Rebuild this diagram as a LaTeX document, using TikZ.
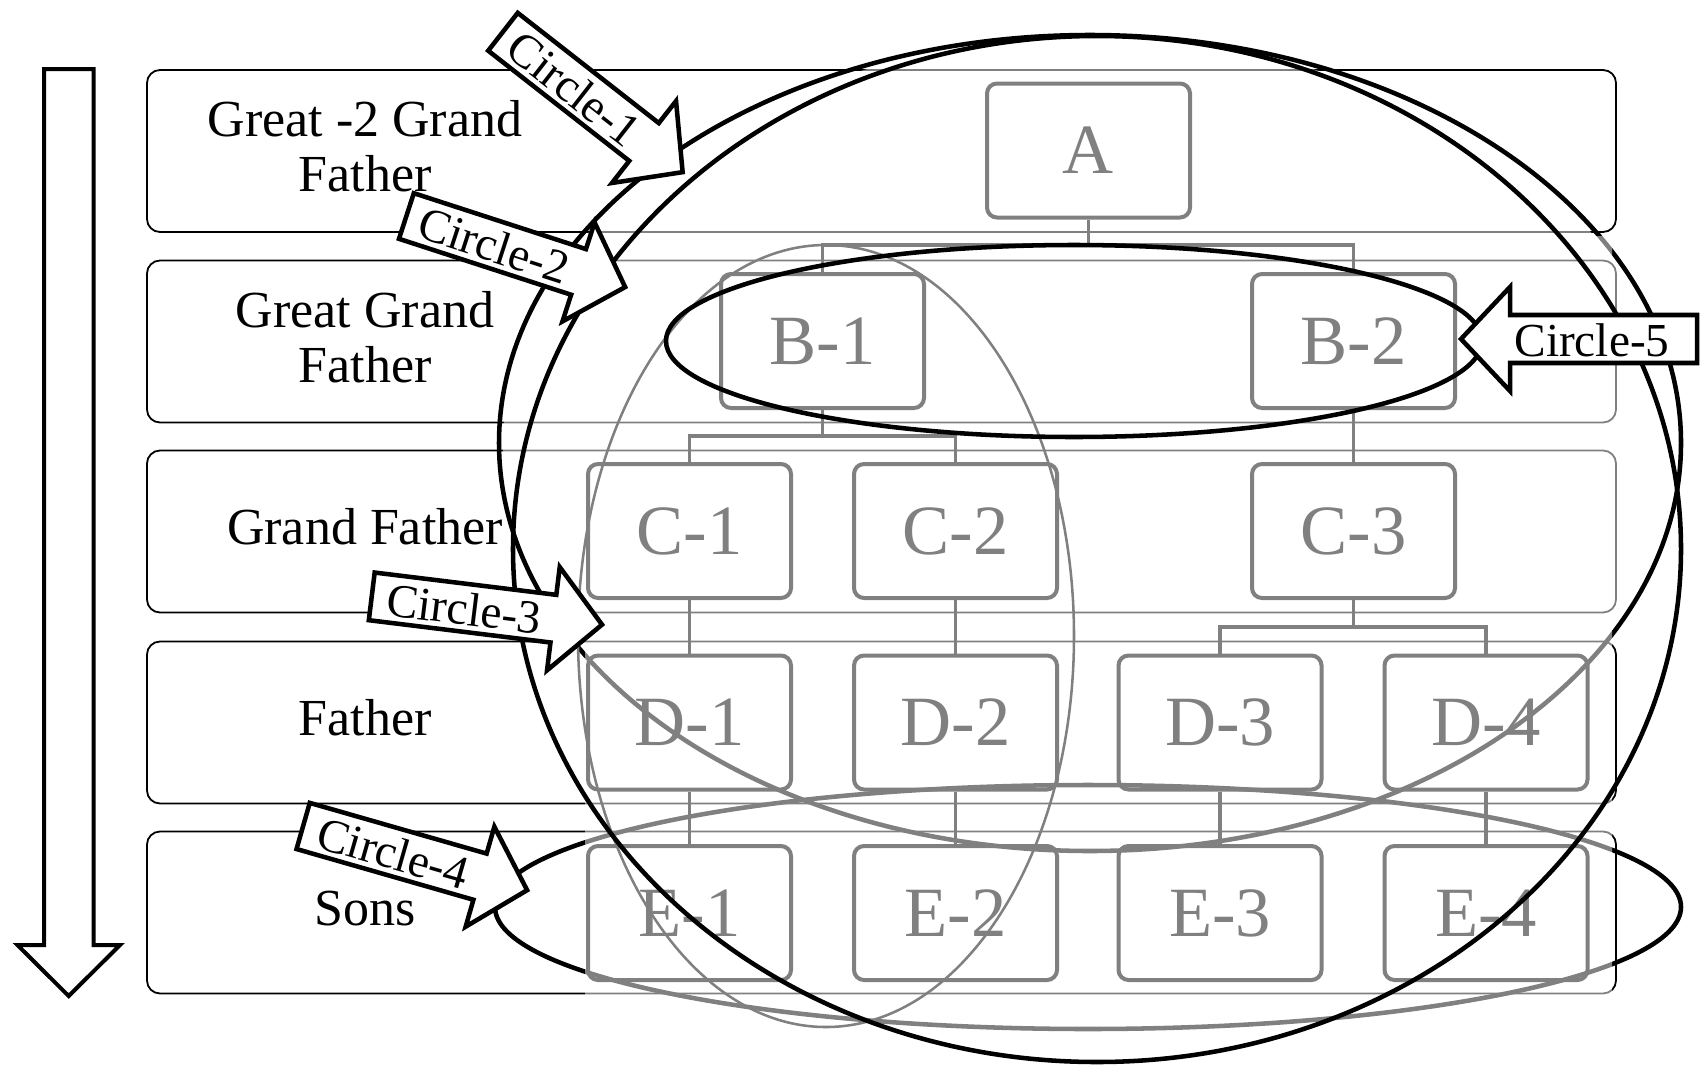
\documentclass[tikz,border=0pt]{standalone}
\usepackage{fontspec}
\setmainfont{Liberation Serif}
\definecolor{orggray}{gray}{0.5}
\tikzset{
 rowbox/.style={draw=black, line width=1.35pt, rounded corners=9.75pt, minimum width=1101.75pt, minimum height=121.5pt, inner sep=0pt},
 orgbox/.style={draw=orggray, line width=3pt, rounded corners=7.5pt, minimum width=152.25pt, minimum height=100.5pt, inner sep=0pt, text=orggray, font=\fontsize{53}{60}\selectfont},
 orgline/.style={draw=orggray, line width=2.4pt},
 bigring/.style={draw=black, line width=3.4pt},
 thinring/.style={draw=orggray, line width=1.9pt},
 lbl/.style={font=\fontsize{39}{46}\selectfont, anchor=base, inner sep=0pt},
 callout/.style={draw=black, fill=white, line width=3.4pt, line join=miter},
 calltext/.style={font=\fontsize{35.5}{42}\selectfont, inner sep=0pt},
 bigarrow/.style={draw=black, line width=3pt, line join=miter, fill=white},
}
\newcommand{\mycallout}[6]{%
 \begin{scope}[shift={(#2,#3)}, rotate=#4]
  \draw[callout] (-52-#5,-24) -- (-52,-24) -- (-52,-52) -- (-3,0) -- (-52,52) -- (-52,24) -- (-52-#5,24) -- cycle;
  \node[calltext, transform shape] (#1) at (-50-#5/2,1) {#6};
 \end{scope}}
\begin{document}
\begin{tikzpicture}[x=0.75pt, y=-0.75pt]
\useasboundingbox (0,0) rectangle (1702,1064);

% generation rows
\node[rowbox] (R1) at (881.5,151) {};
\node[rowbox] (R2) at (881.5,341.5) {};
\node[rowbox] (R3) at (881.5,531.5) {};
\node[rowbox] (R4) at (881.5,722.5) {};
\node[rowbox] (R5) at (881.5,912.5) {};

% rings lying under the chart layer
\draw[bigring] (1090,443) ellipse [x radius=591, y radius=408];
\draw[bigring] (1088,907) ellipse [x radius=593, y radius=122];

% screened chart layer
\begin{scope}[transparency group, opacity=0.5]
 \fill[white] (1090,443) ellipse [x radius=587, y radius=404];
 \fill[white] (585,236) rectangle (1612,1040);
\end{scope}

% family tree
\node[orgbox] (A)  at (1088.5,150.5) {A};
\node[orgbox] (B1) at (822.5,341) {B-1};
\node[orgbox] (B2) at (1353.5,341) {B-2};
\node[orgbox] (C1) at (689.5,531) {C-1};
\node[orgbox] (C2) at (955.5,531) {C-2};
\node[orgbox] (C3) at (1353.5,531) {C-3};
\node[orgbox] (D1) at (689.5,722.5) {D-1};
\node[orgbox] (D2) at (955.5,722.5) {D-2};
\node[orgbox] (D3) at (1220,722.5) {D-3};
\node[orgbox] (D4) at (1486,722.5) {D-4};
\node[orgbox] (E1) at (689.5,913) {E-1};
\node[orgbox] (E2) at (955.5,913) {E-2};
\node[orgbox] (E3) at (1220,913) {E-3};
\node[orgbox] (E4) at (1486,913) {E-4};

\coordinate (jA) at (1088.5,245);
\coordinate (jB) at (822.5,436);
\coordinate (jC) at (1353.5,627);
\draw[orgline] (A.south) -- (jA);
\draw[orgline] (B1.north) |- (jA) -| (B2.north);
\draw[orgline] (B1.south) -- (jB);
\draw[orgline] (C1.north) |- (jB) -| (C2.north);
\draw[orgline] (B2.south) -- (C3.north);
\draw[orgline] (C1.south) -- (D1.north);
\draw[orgline] (C2.south) -- (D2.north);
\draw[orgline] (C3.south) -- (jC);
\draw[orgline] (D3.north) |- (jC) -| (D4.north);
\draw[orgline] (D1.south) -- (E1.north);
\draw[orgline] (D2.south) -- (E2.north);
\draw[orgline] (D3.south) -- (E3.north);
\draw[orgline] (D4.south) -- (E4.north);

% thin ring
\draw[thinring] (826,636) ellipse [x radius=248, y radius=391];

% rings on top
\draw[bigring] (1074,341) ellipse [x radius=408, y radius=96];
\draw[bigring] (1097,549) ellipse [x radius=584, y radius=513];

% row labels
\node[lbl] (L1a) at (365,136) {Great -2 Grand};
\node[lbl] (L1b) at (365,191) {Father};
\node[lbl] (L2a) at (365,327) {Great Grand};
\node[lbl] (L2b) at (365,382) {Father};
\node[lbl] (L3) at (365,544) {Grand Father};
\node[lbl] (L4) at (365,735.5) {Father};
\node[lbl] (L5) at (365,925.5) {Sons};

% callouts
\mycallout{K1}{685}{174}{-38}{179}{Circle-1}
\mycallout{K2}{628}{288}{-18}{181}{Circle-2}
\mycallout{K3}{605}{625}{-7}{183}{Circle-3}
\mycallout{K4}{530}{891}{-16}{184}{Circle-4}
\begin{scope}[shift={(1458,339)}, xscale=-1]
 \draw[callout] (-52-187,-24) -- (-52,-24) -- (-52,-52) -- (-3,0) -- (-52,52) -- (-52,24) -- (-52-187,24) -- cycle;
\end{scope}
\node[calltext] (K5) at (1592,340) {Circle-5};

% generation direction arrow
\draw[bigarrow] (44,69) -- (93.5,69) -- (93.5,945) -- (120,945) -- (68.7,996) -- (17.4,945) -- (44,945) -- cycle;
\end{tikzpicture}
\end{document}
